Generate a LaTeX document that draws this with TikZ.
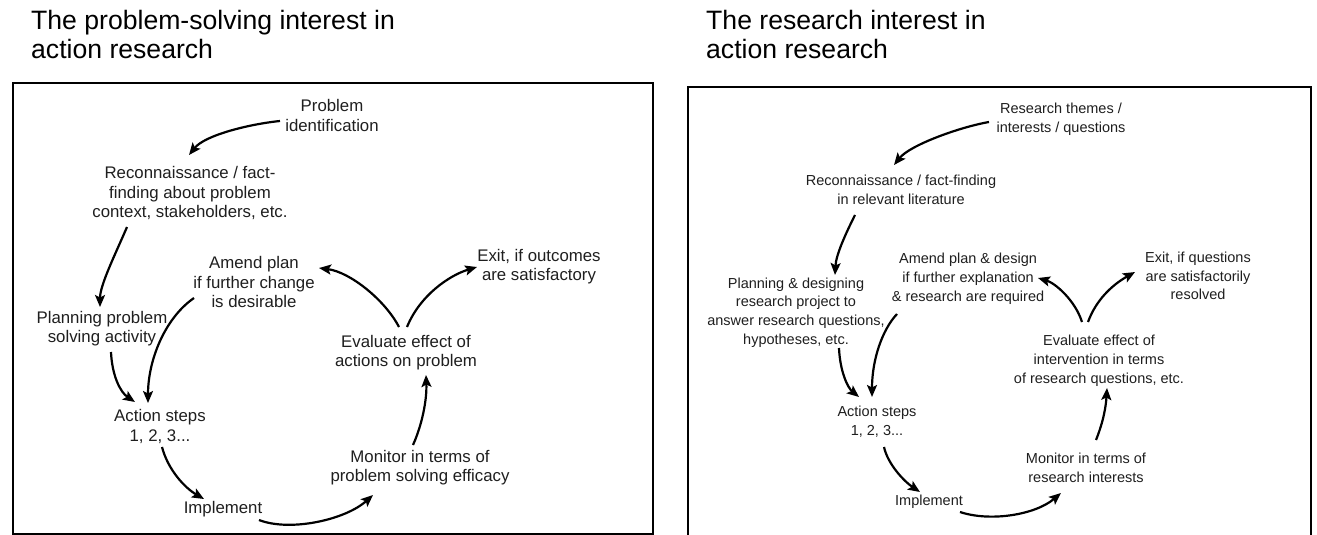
\documentclass[tikz,border=0pt]{standalone}
\usepackage{fontspec}
\setmainfont{Liberation Sans}
\usetikzlibrary{arrows.meta,calc}
\begin{document}
\begin{tikzpicture}[x=1pt,y=-1pt,
  lbl/.style={align=center, inner sep=0pt, text=black!88, font=\fontsize{16.8}{19.2}\selectfont},
  rlbl/.style={align=center, inner sep=0pt, text=black!88, font=\fontsize{14.5}{18.8}\selectfont},
  ttl/.style={align=left, anchor=north west, inner sep=0pt, font=\fontsize{26.6}{29.5}\selectfont},
  arr/.style={line width=2.2pt, -{Stealth[length=12pt,width=10pt,inset=2.5pt]}},
  frame/.style={line width=1.6pt}]
\useasboundingbox (0,0) rectangle (1317,535);
\fill[white] (0,0) rectangle (1317,535);

% titles
\node[ttl] (t1) at (31,10) {The problem-solving interest in\\action research};
\node[ttl] (t2) at (706,10) {The research interest in\\action research};

% frames
\draw[frame] (13,83) rectangle (653,534);
\draw[frame] (688,545) -- (688,87) -- (1311,87) -- (1311,545);

% ---------- left panel ----------
\node[lbl] (prob) at (332,115.5) {Problem\\identification};
\node[lbl] (recon) at (190,193) {Reconnaissance / fact-\\finding about problem\\context, stakeholders, etc.};
\node[lbl] (amend) at (254,282) {Amend plan\\if further change\\is desirable};
\node[lbl] (exit) at (539,267) {Exit, if outcomes\\are satisfactory};
\node[lbl] (plan) at (102,328.5) {Planning problem\\solving activity};
\node[lbl] (eval) at (406,353) {Evaluate effect of\\actions on problem};
\node[lbl] (act) at (160,426.5) {Action steps\\1, 2, 3...};
\node[lbl] (mon) at (420,467.5) {Monitor in terms of\\problem solving efficacy};
\node[lbl] (impl) at (223,509) {Implement};

\draw[arr] ($(prob)+(-52,5.5)$) .. controls (250,124) and (205,135) .. ($(recon)+(-1,-38)$);
\draw[arr] ($(recon)+(-63,34)$) .. controls (115,255) and (100,285) .. ($(plan)+(-2,-21.5)$);
\draw[arr] ($(plan)+(9,23.5)$) .. controls (112,375) and (120,392) .. ($(act)+(-25,-24.5)$);
\draw[arr] ($(amend)+(-60,16)$) .. controls (165,318) and (148,360) .. ($(act)+(-12,-23.5)$);
\draw[arr] ($(eval)+(-7,-26)$) .. controls (385,300) and (350,272) .. ($(amend)+(65,-14)$);
\draw[arr] ($(eval)+(1,-26)$) .. controls (420,295) and (450,275) .. ($(exit)+(-62,0)$);
\draw[arr] ($(act)+(2,20.5)$) .. controls (168,470) and (185,488) .. ($(impl)+(-19,-10)$);
\draw[arr] ($(impl)+(36,11)$) .. controls (290,532) and (345,520) .. ($(mon)+(-47,27.5)$);
\draw[arr] ($(mon)+(-7,-22.5)$) .. controls (422,425) and (427,400) .. ($(eval)+(20,22)$);

% ---------- right panel ----------
\node[rlbl] (rthm) at (1061,119) {Research themes /\\interests / questions};
\node[rlbl] (rrec) at (901,189.5) {Reconnaissance / fact-finding\\in relevant literature};
\node[rlbl] (rpln) at (796,312.5) {Planning \& designing\\research project to\\answer research questions,\\hypotheses, etc.};
\node[rlbl] (rame) at (968,278.5) {Amend plan \& design\\if further explanation\\\& research are required};
\node[rlbl] (rext) at (1198,276) {Exit, if questions\\are satisfactorily\\resolved};
\node[rlbl] (reva) at (1099,360.5) {Evaluate effect of\\intervention in terms\\of research questions, etc.};
\node[rlbl] (ract) at (877,421.5) {Action steps\\1, 2, 3...};
\node[rlbl] (rmon) at (1086,467.5) {Monitor in terms of\\research interests};
\node[rlbl] (rimp) at (929,502) {Implement};

\draw[arr] ($(rthm)+(-72,3)$) .. controls (960,127) and (910,145) .. ($(rrec)+(-7,-24.5)$);
\draw[arr] ($(rrec)+(-46,25.5)$) .. controls (845,235) and (836,255) .. ($(rpln)+(39,-37.5)$);
\draw[arr] ($(rpln)+(43,35.5)$) .. controls (840,372) and (848,388) .. ($(ract)+(-18,-24.5)$);
\draw[arr] ($(rame)+(-71,35.5)$) .. controls (882,330) and (872,360) .. ($(ract)+(-5,-24.5)$);
\draw[arr] ($(reva)+(-17,-38.5)$) .. controls (1075,300) and (1055,283) .. ($(rame)+(70,-0.5)$);
\draw[arr] ($(reva)+(-11,-38.5)$) .. controls (1096,300) and (1112,285) .. ($(rext)+(-63,-4)$);
\draw[arr] ($(ract)+(7,25.5)$) .. controls (888,465) and (905,482) .. ($(rimp)+(-9,-10)$);
\draw[arr] ($(rimp)+(31,10)$) .. controls (990,522) and (1035,515) .. ($(rmon)+(-25,25.5)$);
\draw[arr] ($(rmon)+(10,-27.5)$) .. controls (1104,420) and (1106,405) .. ($(reva)+(8,27.5)$);
\end{tikzpicture}
\end{document}
